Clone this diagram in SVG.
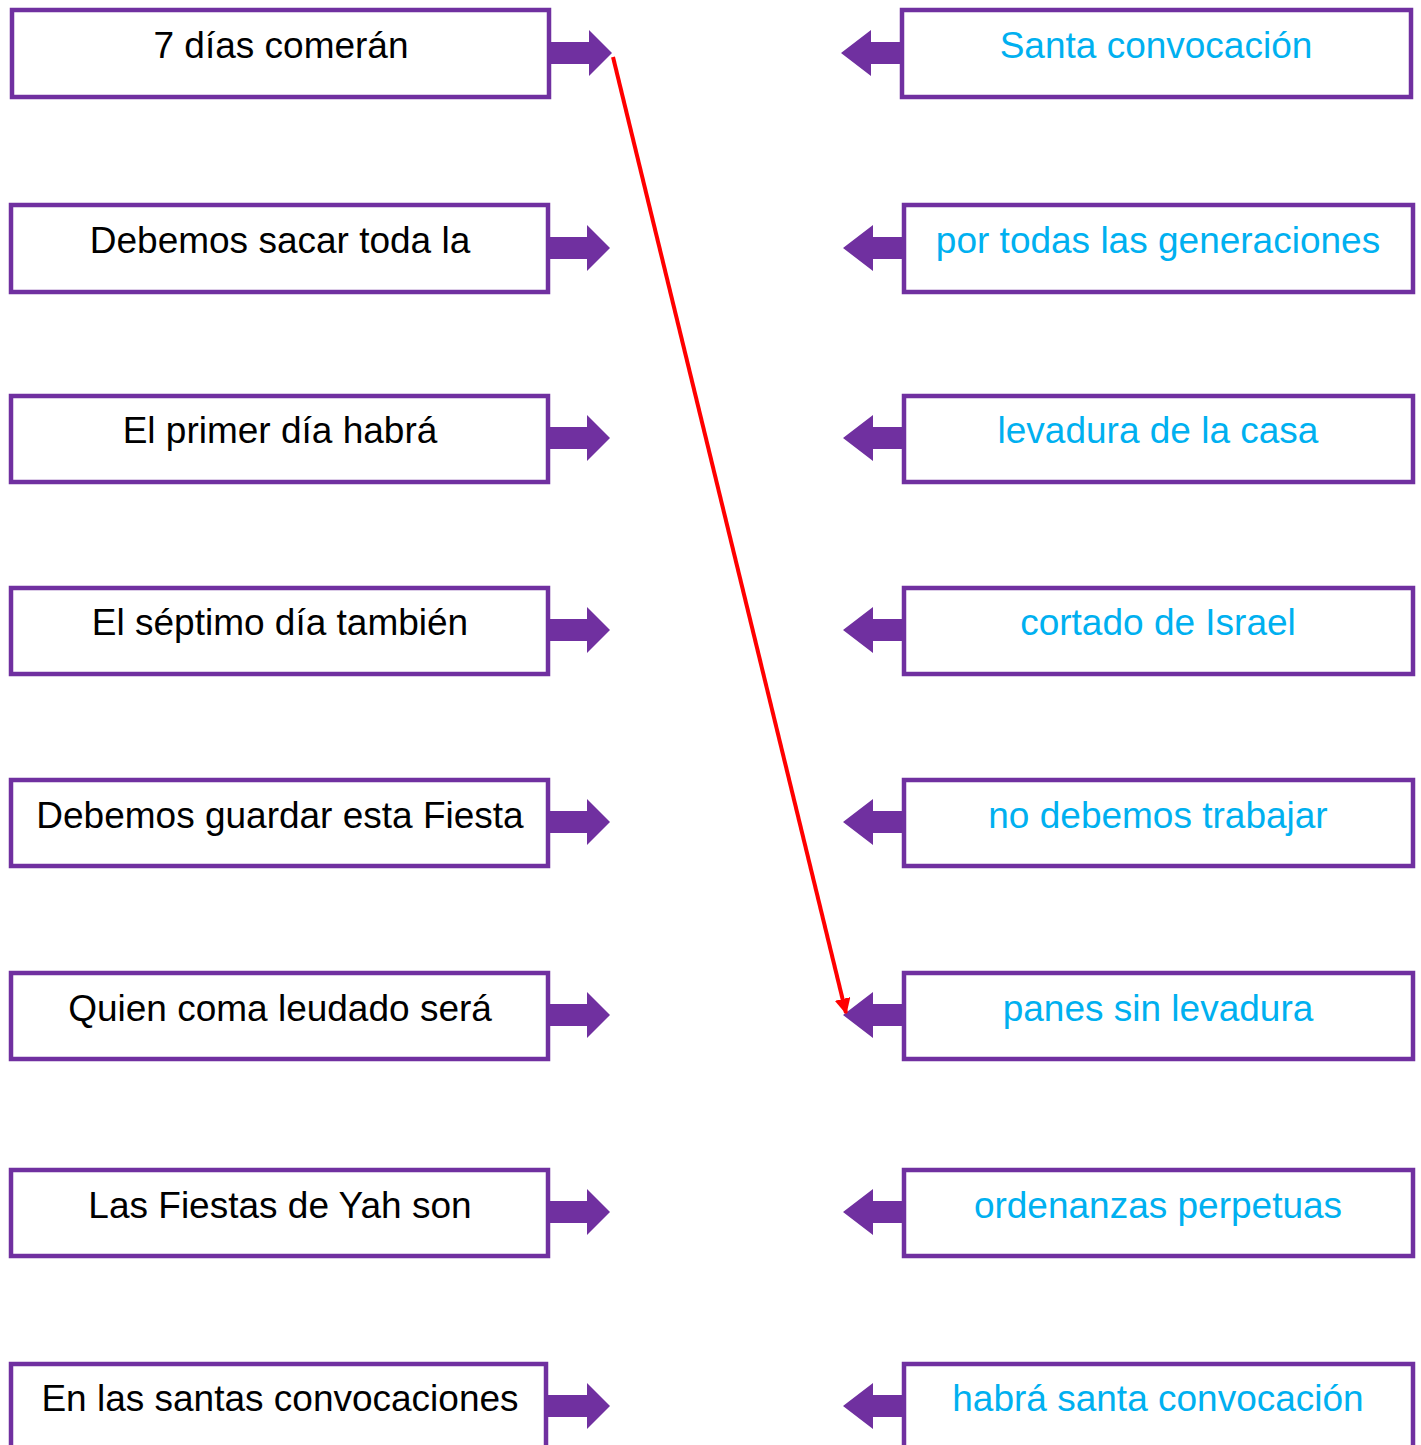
<svg xmlns="http://www.w3.org/2000/svg" width="1421" height="1445" viewBox="0 0 1421 1445">
<style>
.box{fill:#fff;stroke:#7030A0;stroke-width:4.5}
.arr{fill:#7030A0}
.lt{font-family:"Liberation Sans",Arial,sans-serif;font-size:37px;fill:#000;text-anchor:middle}
.rt{font-family:"Liberation Sans",Arial,sans-serif;font-size:37px;fill:#00B0F0;text-anchor:middle}
</style>
<defs>
<path id="ra" d="M0,-11 L39,-11 L39,-23 L62,0 L39,23 L39,11 L0,11 Z"/>
<path id="la" d="M0,-11 L-30,-11 L-30,-23 L-60,0 L-30,23 L-30,11 L0,11 Z"/>
<marker id="rh" viewBox="0 0 10 10" refX="9" refY="5" markerWidth="4" markerHeight="4" orient="auto" markerUnits="strokeWidth"><path d="M0,0 L10,5 L0,10 Z" fill="#FF0000"/></marker>
</defs>
<g id="l1"><use href="#ra" class="arr" x="550" y="53"/><rect class="box" x="12" y="10" width="537" height="87"/><text class="lt" x="281" y="58">7 días comerán</text></g>
<g id="l2"><use href="#ra" class="arr" x="548" y="248"/><rect class="box" x="11" y="205" width="537" height="87"/><text class="lt" x="280" y="253">Debemos sacar toda la</text></g>
<g id="l3"><use href="#ra" class="arr" x="548" y="438"/><rect class="box" x="11" y="396" width="537" height="86"/><text class="lt" x="280" y="443">El primer día habrá</text></g>
<g id="l4"><use href="#ra" class="arr" x="548" y="630"/><rect class="box" x="11" y="588" width="537" height="86"/><text class="lt" x="280" y="635">El séptimo día también</text></g>
<g id="l5"><use href="#ra" class="arr" x="548" y="822"/><rect class="box" x="11" y="780" width="537" height="86"/><text class="lt" x="280" y="828">Debemos guardar esta Fiesta</text></g>
<g id="l6"><use href="#ra" class="arr" x="548" y="1015"/><rect class="box" x="11" y="973" width="537" height="86"/><text class="lt" x="280" y="1021">Quien coma leudado será</text></g>
<g id="l7"><use href="#ra" class="arr" x="548" y="1212"/><rect class="box" x="11" y="1170" width="537" height="86"/><text class="lt" x="280" y="1218">Las Fiestas de Yah son</text></g>
<g id="l8"><use href="#ra" class="arr" x="548" y="1406"/><rect class="box" x="11" y="1364" width="535" height="90"/><text class="lt" x="280" y="1411">En las santas convocaciones</text></g>
<g id="r1"><use href="#la" class="arr" x="901" y="53"/><rect class="box" x="902" y="10" width="509" height="87"/><text class="rt" x="1156" y="58">Santa convocación</text></g>
<g id="r2"><use href="#la" class="arr" x="903" y="248"/><rect class="box" x="904" y="205" width="509" height="87"/><text class="rt" x="1158" y="253">por todas las generaciones</text></g>
<g id="r3"><use href="#la" class="arr" x="903" y="438"/><rect class="box" x="904" y="396" width="509" height="86"/><text class="rt" x="1158" y="443">levadura de la casa</text></g>
<g id="r4"><use href="#la" class="arr" x="903" y="630"/><rect class="box" x="904" y="588" width="509" height="86"/><text class="rt" x="1158" y="635">cortado de Israel</text></g>
<g id="r5"><use href="#la" class="arr" x="903" y="822"/><rect class="box" x="904" y="780" width="509" height="86"/><text class="rt" x="1158" y="828">no debemos trabajar</text></g>
<g id="r6"><use href="#la" class="arr" x="903" y="1015"/><rect class="box" x="904" y="973" width="509" height="86"/><text class="rt" x="1158" y="1021">panes sin levadura</text></g>
<g id="r7"><use href="#la" class="arr" x="903" y="1212"/><rect class="box" x="904" y="1170" width="509" height="86"/><text class="rt" x="1158" y="1218">ordenanzas perpetuas</text></g>
<g id="r8"><use href="#la" class="arr" x="903" y="1406"/><rect class="box" x="904" y="1364" width="509" height="90"/><text class="rt" x="1158" y="1411">habrá santa convocación</text></g>
<g id="connectors"><line x1="613" y1="57" x2="846" y2="1013" stroke="#FF0000" stroke-width="4" marker-end="url(#rh)"/></g>
</svg>
